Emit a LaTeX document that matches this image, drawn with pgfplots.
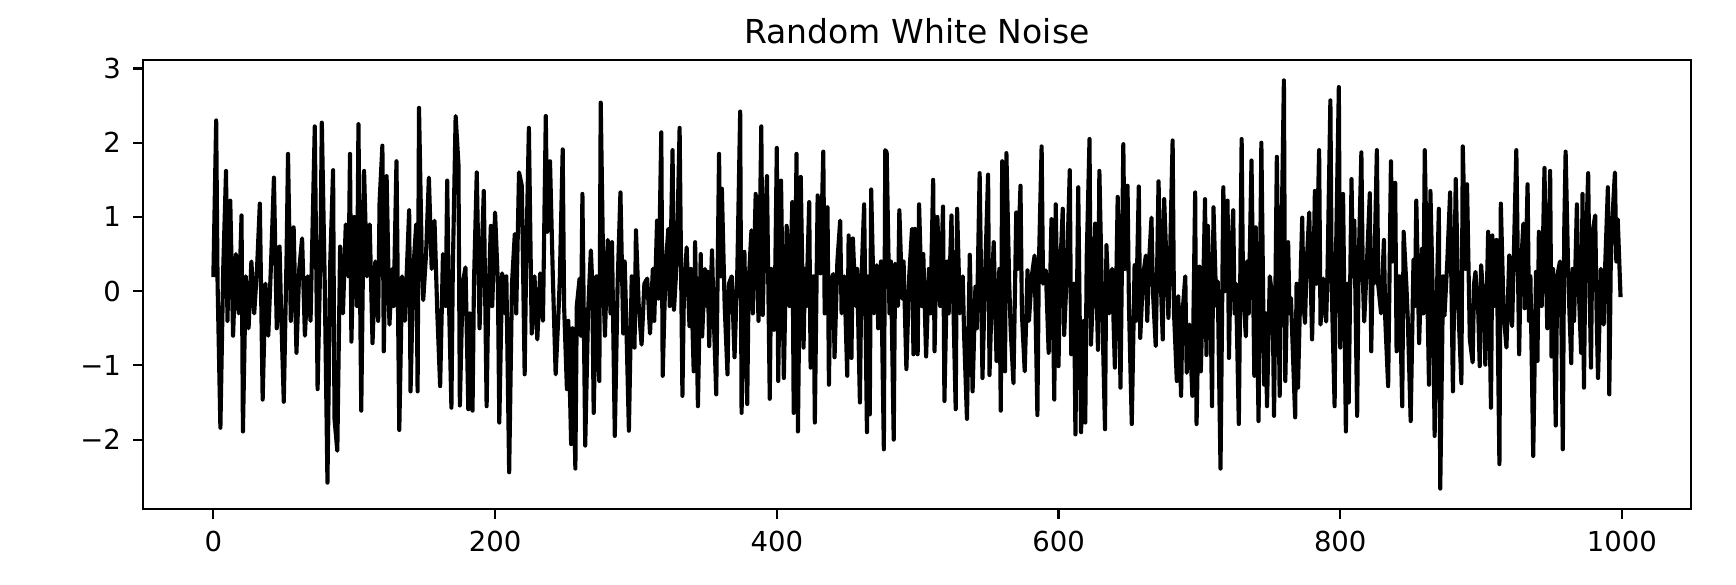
\documentclass[border=0pt]{standalone}
\usepackage{pgfplots}
\pgfplotsset{compat=1.18}
\usepackage{fontspec}
\setmainfont{DejaVu Sans}
\pgfplotstableread{
x y
0 0.19
2 2.30
3 0.1
5 -1.84
7 0.3
9 1.62
10 -0.4
12 1.22
14 -0.6
16 0.5
18 -0.3
20 1.02
21 -1.89
23 0.2
25 -0.5
27 0.4
29 -0.3
31 0.3
33 1.18
35 -1.46
37 0.1
39 -0.6
41 0.4
43 1.53
45 -0.5
47 0.6
48 -0.2
50 -1.49
52 0.5
53 1.85
55 -0.4
57 0.86
59 -0.83
61 0.3
63 0.71
65 -0.6
67 0.2
69 -0.4
72 2.22
74 -1.32
76 0.5
77 2.27
79 0.2
81 -2.58
83 0.4
85 1.63
86 -1.72
88 -2.15
90 0.6
92 -0.3
94 0.9
96 0.2
97 1.85
98 -0.68
100 1.0
102 -0.2
103 2.25
105 -1.61
107 1.62
109 0.2
111 0.9
113 -0.70
115 0.4
117 -0.4
118 1.2
120 1.96
121 -0.81
123 1.55
125 -0.45
127 0.3
128 -0.2
130 1.75
132 -1.87
134 0.2
136 -0.4
138 0.6
139 1.09
140 -1.35
142 0.3
144 0.9
145 -1.35
146 2.47
148 0.4
149 -0.12
151 0.5
153 1.53
155 0.3
157 0.95
159 -0.3
161 -1.28
163 0.50
165 -0.2
166 1.49
167 0.1
169 -1.57
170 0.3
172 2.36
174 1.71
175 -1.54
177 0.1
179 0.32
181 -1.59
182 -0.3
184 -1.61
185 0.1
187 1.60
189 -0.5
190 0.2
192 1.35
194 -1.55
195 -0.3
197 0.88
198 -0.2
200 1.06
202 0.1
203 -1.77
205 0.24
207 -0.3
208 0.2
210 -2.44
212 0.1
214 0.77
215 -0.3
217 1.60
219 1.42
221 -1.12
222 0.3
224 2.20
226 -0.57
228 0.2
229 -0.3
230 -0.65
232 0.24
234 -0.40
236 2.36
237 0.8
239 1.75
241 0.2
243 -1.12
245 -0.3
246 0.2
248 1.91
249 -0.2
251 -1.32
252 -0.4
254 -2.06
255 -0.5
257 -2.39
258 -0.2
260 0.17
261 -0.6
262 1.31
264 -2.08
266 -0.3
268 0.55
269 0.1
270 -1.64
272 0.2
274 -1.21
275 2.54
277 0.0
278 -0.6
280 0.69
282 -0.3
283 0.66
285 -1.95
287 0.1
289 1.33
291 -0.57
292 0.4
293 -0.3
295 -1.88
297 0.2
299 -0.76
300 0.82
302 -0.2
304 -0.72
306 0.1
308 0.17
310 -0.57
312 0.3
313 -0.4
315 0.95
316 -0.1
318 2.14
319 -1.14
321 0.3
323 0.84
324 -0.2
326 1.90
327 -0.25
329 0.4
331 2.20
333 -1.41
334 -0.1
336 0.59
338 -0.47
339 0.3
341 -1.08
342 0.66
344 -1.55
346 0.50
347 -0.61
349 0.3
350 -0.2
351 0.26
352 -0.74
354 0.55
355 -0.2
357 -1.39
359 1.85
360 0.2
361 1.38
363 -0.2
365 -1.12
366 0.1
368 0.20
370 -0.89
372 0.3
374 2.42
375 -1.64
377 0.53
379 -1.52
380 0.1
382 0.82
383 -0.3
385 1.31
387 -0.4
389 2.22
390 -0.32
391 0.5
393 1.55
395 -1.45
396 0.3
398 -0.52
399 0.4
400 1.93
401 -1.21
403 1.49
405 -1.17
407 0.88
409 -0.2
411 1.20
412 -1.64
414 1.85
415 -1.89
417 1.54
419 -0.76
420 0.3
421 -0.2
423 1.20
424 -1.03
426 0.2
427 -1.77
429 1.29
431 0.24
433 1.88
434 -0.3
436 1.13
437 -1.26
438 0.1
440 0.23
441 -0.89
443 0.4
445 0.95
446 -0.3
448 0.2
450 -1.14
451 0.75
453 -0.90
454 0.71
456 -0.2
457 0.3
459 -1.50
460 0.1
462 1.17
464 -1.90
465 0.2
466 -1.66
467 1.37
469 -0.3
471 0.35
472 -0.5
474 0.4
476 -2.13
477 1.90
478 1.87
480 -0.3
481 0.4
483 -2.00
484 0.37
486 -0.2
487 1.09
489 -0.1
490 0.4
492 -1.05
494 0.2
496 0.84
497 -0.85
498 0.84
499 -0.3
500 -0.85
501 1.17
503 -0.2
504 0.5
506 -0.88
508 0.3
509 -0.3
511 1.50
512 -0.81
513 0.2
514 1.00
516 -0.2
518 1.14
519 -1.48
521 0.4
522 -0.3
524 1.02
525 0.1
527 -1.59
528 1.11
530 -0.3
532 0.20
533 -0.6
535 -1.72
537 0.49
539 -1.35
541 0.06
542 -0.5
544 1.59
546 -1.17
548 0.3
550 1.57
551 -1.13
553 0.2
554 0.66
556 -0.94
558 0.3
559 -1.61
560 1.75
562 -1.08
563 1.86
565 0.1
566 -0.5
568 -1.24
570 1.06
571 0.3
573 1.42
574 -0.3
576 -1.08
578 0.28
579 -0.4
581 0.2
583 0.48
585 -1.67
586 0.3
588 1.95
589 0.1
591 0.28
593 -0.83
595 0.97
597 -1.46
598 1.17
600 -1.01
601 0.2
603 1.11
604 -0.59
606 0.3
608 1.63
609 -0.85
611 0.1
612 -1.93
614 1.40
615 -0.3
616 -1.90
618 -0.4
619 -1.77
620 0.44
622 2.05
623 -0.72
625 0.2
626 0.91
628 -0.79
629 1.62
631 -0.2
633 -1.86
634 0.62
636 -0.3
638 0.3
640 -1.03
641 0.1
642 1.27
644 -1.30
646 1.98
647 0.3
649 1.42
650 -0.2
652 -1.79
654 0.35
655 -0.4
657 1.41
658 -0.63
660 0.2
662 0.48
663 -0.4
664 0.3
666 0.99
667 0.0
669 -0.74
670 0.3
671 1.48
673 -0.1
674 -0.65
675 1.24
677 0.2
678 -0.36
679 0.3
681 2.03
682 -0.3
684 -1.21
685 -0.07
687 -1.41
688 -0.3
690 0.20
691 -1.10
693 -0.45
695 -1.41
697 1.33
698 -1.79
700 0.33
701 -1.08
703 0.3
704 1.24
705 -0.86
706 0.88
708 -0.3
709 -1.55
710 1.13
712 -0.2
713 0.13
715 -2.39
717 1.40
718 0.0
720 1.22
721 -0.90
722 0.2
724 1.09
725 -0.3
726 0.1
728 -1.79
730 2.05
731 0.0
733 -0.61
734 0.4
735 -0.3
737 1.76
739 -1.14
740 0.86
742 -1.75
744 2.00
746 -1.26
747 -0.3
748 -1.55
750 0.2
752 -0.12
753 -1.68
755 1.81
756 0.2
757 -1.41
758 0.3
760 2.84
761 -1.21
763 0.66
764 -0.3
765 -0.09
768 -1.70
769 0.1
770 -1.30
772 0.3
773 0.99
774 -0.2
775 -0.43
776 0.3
778 1.06
780 -0.65
781 0.2
782 1.35
783 0.1
785 1.90
786 -0.45
788 0.17
789 -0.2
790 -0.41
791 0.3
793 2.57
794 0.0
796 -1.55
797 0.5
799 2.75
800 -0.76
802 1.31
804 -1.89
805 0.1
806 -1.50
808 1.51
809 0.2
810 0.95
812 -1.68
813 0.3
815 1.87
816 0.2
817 -0.41
819 0.4
821 1.32
822 -0.81
823 0.3
824 0.1
826 1.90
827 0.08
829 -0.3
831 0.69
832 -0.4
834 -1.28
836 1.75
837 0.4
839 1.46
840 -0.81
842 0.2
844 -1.55
845 0.80
847 0.06
848 -0.4
850 -1.75
852 0.42
853 -0.2
854 1.22
856 -0.70
858 0.57
859 -0.3
860 1.90
862 -0.2
863 -1.26
864 1.35
866 -0.3
867 -1.95
869 0.3
870 1.11
871 -2.66
873 0.2
874 -0.33
876 0.4
878 1.33
880 -1.35
881 0.2
882 1.51
884 -0.3
886 -1.24
887 1.95
889 0.3
890 1.44
892 -0.65
894 -0.96
895 0.1
896 0.26
898 -0.3
899 -1.01
900 0.35
902 -0.2
903 -0.99
905 0.80
907 -1.57
908 0.75
909 -0.2
911 0.69
913 -2.33
914 1.18
916 -0.3
918 -0.76
920 0.48
921 -0.2
922 -0.47
923 0.3
925 1.90
927 -0.85
928 0.2
930 0.91
931 -0.23
933 1.44
934 -0.4
935 0.2
937 -2.22
939 0.26
940 -0.94
941 0.80
943 -0.2
945 1.66
946 0.3
947 -0.5
949 1.62
950 -0.88
951 0.3
953 -1.81
954 0.2
956 0.40
957 -0.4
958 -2.13
959 0.8
960 1.88
962 0.1
964 -0.97
965 0.3
966 -0.4
968 1.17
969 0.2
971 -0.83
972 1.31
973 -1.30
974 0.3
976 1.59
977 0.1
978 -1.03
979 0.78
981 1.02
982 -0.3
983 -1.17
985 0.3
987 -0.45
988 0.3
990 1.40
991 -1.39
992 0.3
993 0.9
995 1.60
996 0.4
997 0.97
999 -0.08
}\noise
\begin{document}
\begin{tikzpicture}
\path (-52pt,-27.3pt) rectangle (579.3pt,185.1pt);
\begin{axis}[
  scale only axis,
  width=562.9pt, height=163.3pt,
  at={(0pt,0pt)}, anchor=south west,
  xmin=-49.95, xmax=1048.95,
  ymin=-2.935, ymax=3.115,
  xtick={0,200,400,600,800,1000},
  ytick={-2,-1,0,1,2,3},
  yticklabels={−2,−1,0,1,2,3},
  xtick pos=bottom, ytick pos=left,
  tick align=outside,
  major tick length=3.5pt,
  every tick/.style={black, line width=0.8pt},
  axis line style={line width=0.8pt},
  /pgf/number format/assume math mode=true,
  /pgf/number format/1000 sep={},
  tick label style={font=\fontsize{10}{12}\selectfont, black},
  xticklabel style={yshift=-1pt},
  yticklabel style={xshift=-1pt},
  title={Random White Noise},
  title style={font=\fontsize{12}{14}\selectfont, at={(0.5,1)}, anchor=base, yshift=0pt, inner sep=0pt},
  clip=true,
]
\addplot[black, line width=1.5pt, line join=round] table[x=x, y=y] {\noise};
\end{axis}
\end{tikzpicture}
\end{document}
